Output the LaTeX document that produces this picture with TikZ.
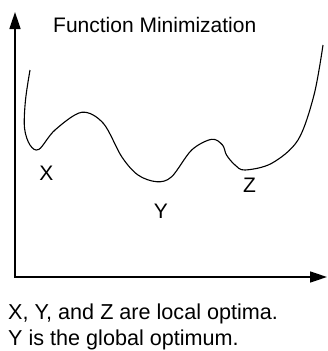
\documentclass[tikz,border=0pt]{standalone}
\usepackage{fontspec}
\setmainfont{Liberation Sans}
\usetikzlibrary{arrows.meta}
\begin{document}
\begin{tikzpicture}[x=1pt,y=-1pt,
  axis/.style={line width=1.7pt,-{Triangle[length=17pt,width=11pt]}},
  fcurve/.style={line width=1.1pt},
  lbl/.style={inner sep=0pt,font=\fontsize{21}{26}\selectfont},
  note/.style={inner sep=0pt,font=\fontsize{21.6}{26}\selectfont}]
\useasboundingbox (0,0) rectangle (327,351);
\coordinate (O) at (15,277);
\coordinate (ytop) at (15,12);
\coordinate (xend) at (327,277);
\draw[axis] ([yshift=-0.85pt]O) -- (ytop);
\draw[axis] ([xshift=-0.85pt]O) -- (xend);
\draw[fcurve] plot[smooth,tension=0.55] coordinates {
 (30,70) (25.5,100) (24.5,128) (30,145) (39,149.3) (55,130) (81.7,112.3)
 (103.3,123.3) (121.7,156.7) (138,175) (156.7,181.7) (171.7,176.7)
 (191.7,150) (211.7,139.3) (222.5,145) (226.5,155) (235,165) (245,170)
 (271.7,163.3) (298,140) (314,95) (323,45)};
\node[lbl,anchor=base west] (title) at (53,32) {Function Minimization};
\node[lbl,anchor=base] (X) at (46.5,180) {X};
\node[lbl,anchor=base] (Y) at (161,218) {Y};
\node[lbl,anchor=base] (Z) at (249.5,192) {Z};
\node[note,anchor=base west] (note1) at (8,319.5) {X, Y, and Z are local optima.};
\node[note,anchor=base west] (note2) at (8,345) {Y is the global optimum.};
\end{tikzpicture}
\end{document}
